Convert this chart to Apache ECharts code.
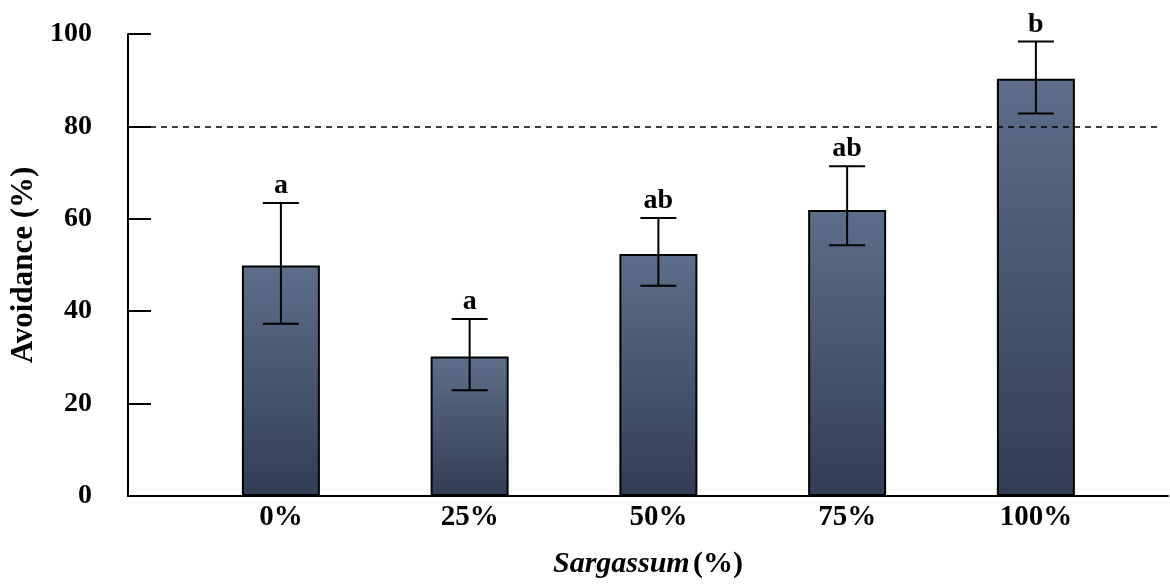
<!DOCTYPE html>
<html>
<head>
<meta charset="utf-8">
<script src="https://cdn.jsdelivr.net/npm/echarts@6/dist/echarts.min.js"></script>
<style>html,body{margin:0;padding:0;background:#fff;}#c{width:1170px;height:588px;}</style>
</head>
<body>
<div id="c"></div>
<script>
var categories = ['0%', '25%', '50%', '75%', '100%'];
var means = [49.9, 30.2, 52.4, 61.9, 90.3];
var errUpper = [63.4, 38.3, 60.2, 71.4, 98.4];
var errLower = [37.3, 22.9, 45.5, 54.3, 82.8];
var letters = ['a', 'a', 'ab', 'ab', 'b'];
var yTicks = [0, 20, 40, 60, 80, 100];
var threshold = 80;

var FONT = "'Liberation Serif', 'Times New Roman', serif";
var chart = echarts.init(document.getElementById('c'));

var barData = means.map(function (v, i) { return [i, v]; });
var errData = means.map(function (v, i) { return [i, errLower[i], errUpper[i]]; });

chart.setOption({
  animation: false,
  grid: { left: 128, right: 2, top: 34, bottom: 92, containLabel: false },
  xAxis: {
    type: 'value',
    min: -0.81,
    max: 4.7,
    splitLine: { show: false },
    axisTick: { show: false },
    axisLine: { show: true, onZero: false, lineStyle: { color: '#000', width: 2 } },
    axisLabel: {
      customValues: [0, 1, 2, 3, 4],
      formatter: function (v) { return categories[Math.round(v)]; },
      color: '#000', fontFamily: FONT, fontWeight: 'bold', fontSize: 29, margin: 7
    },
    name: '{i|Sargassum} {n|(%)}',
    nameLocation: 'middle',
    nameGap: 53,
    nameTextStyle: {
      rich: {
        i: { fontFamily: FONT, fontWeight: 'bold', fontStyle: 'italic', fontSize: 30, color: '#000' },
        n: { fontFamily: FONT, fontWeight: 'bold', fontSize: 30, color: '#000' }
      }
    }
  },
  yAxis: {
    type: 'value',
    min: 0, max: 100, interval: 20,
    splitLine: { show: false },
    axisLine: { show: true, onZero: false, lineStyle: { color: '#000', width: 2 } },
    axisTick: { show: true, inside: true, length: 23, lineStyle: { color: '#000', width: 2 } },
    axisLabel: {
      color: '#000', fontFamily: FONT, fontWeight: 'bold', fontSize: 28, margin: 36,
      formatter: function (v) { return yTicks.indexOf(v) >= 0 ? String(v) : ''; }
    },
    name: 'Avoidance (%)',
    nameLocation: 'middle',
    nameGap: 85,
    nameTextStyle: { fontFamily: FONT, fontWeight: 'bold', fontSize: 31, color: '#000' }
  },
  series: [
    {
      type: 'bar',
      data: barData,
      barWidth: 78,
      itemStyle: {
        color: new echarts.graphic.LinearGradient(0, 0, 0, 1, [
          { offset: 0, color: '#5e6e8a' },
          { offset: 1, color: '#313d54' }
        ]),
        borderColor: '#000',
        borderWidth: 2
      },
      markLine: {
        silent: true,
        symbol: 'none',
        label: { show: false },
        lineStyle: { color: '#000', type: [6, 5], width: 1.5 },
        data: [[{ coord: [-0.81, threshold] }, { coord: [4.65, threshold] }]]
      }
    },
    {
      type: 'custom',
      data: errData,
      z: 10,
      renderItem: function (params, api) {
        var x = api.value(0);
        var lo = api.coord([x, api.value(1)]);
        var hi = api.coord([x, api.value(2)]);
        var hw = 18;
        var style = { stroke: '#000', lineWidth: 2 };
        return {
          type: 'group',
          children: [
            { type: 'line', shape: { x1: hi[0], y1: hi[1], x2: lo[0], y2: lo[1] }, style: style },
            { type: 'line', shape: { x1: hi[0] - hw, y1: hi[1], x2: hi[0] + hw, y2: hi[1] }, style: style },
            { type: 'line', shape: { x1: lo[0] - hw, y1: lo[1], x2: lo[0] + hw, y2: lo[1] }, style: style },
            {
              type: 'text',
              style: {
                text: letters[params.dataIndex],
                x: hi[0], y: hi[1] - 3,
                align: 'center', verticalAlign: 'bottom',
                fontFamily: FONT, fontWeight: 'bold', fontSize: 28, fill: '#000'
              }
            }
          ]
        };
      }
    }
  ]
});
</script>
</body>
</html>
